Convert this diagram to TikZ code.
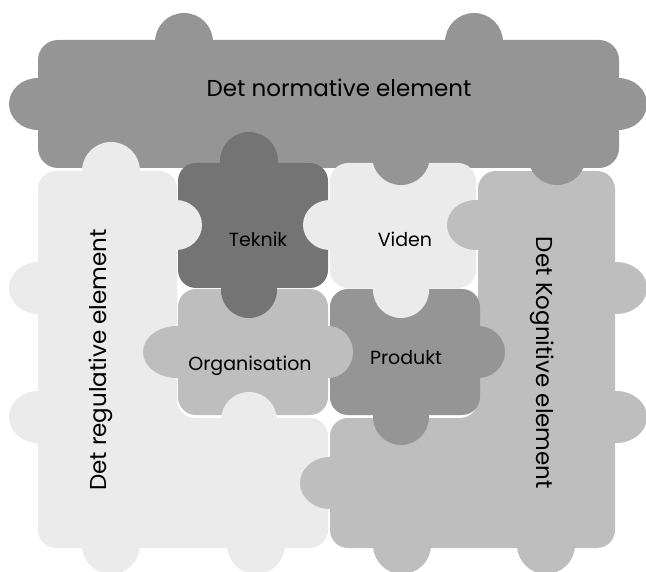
\documentclass[tikz,border=0pt]{standalone}
\usepackage{fontspec}
\setmainfont{Poppins}
\usepackage{tikz}
\usetikzlibrary{backgrounds}
\definecolor{lightpiece}{HTML}{EBEBEB}
\definecolor{midpiece}{HTML}{BEBEBE}
\definecolor{greypiece}{HTML}{959595}
\definecolor{darkpiece}{HTML}{747474}
\newcommand{\knob}{29}
\newcommand{\knobw}{26}
\newcommand{\corner}{18pt}
\tikzset{
  bigtext/.style={font=\fontsize{23}{27}\selectfont},
  smalltext/.style={font=\fontsize{19}{23}\selectfont},
}

\begin{document}
\begin{tikzpicture}[x=1pt,y=-1pt]
\useasboundingbox (0,0) rectangle (646,572);
%bodies
\fill[greypiece, rounded corners=20pt] (38,40) rectangle (619,168);
\fill[lightpiece, rounded corners=\corner] (38,171) -- (177,171) -- (177,418) -- (328,418) -- (328,548) -- (38,548) -- cycle;
\fill[midpiece, rounded corners=\corner] (478,171) -- (615,171) -- (615,548) -- (330,548) -- (330,418) -- (478,418) -- cycle;
\fill[darkpiece, rounded corners=\corner] (178,163) rectangle (328,288);
\fill[lightpiece, rounded corners=\corner] (330,163) rectangle (476,288);
\fill[midpiece, rounded corners=\corner] (178,289) rectangle (328,415);
\fill[greypiece, rounded corners=\corner] (330,289) rectangle (480,415);
%normative
\fill[greypiece] (184,42) circle (\knob);
\fill[greypiece] (474,42) circle (\knob);
\fill[greypiece] (38,104) ellipse (\knob pt and \knobw pt);
\fill[greypiece] (618,104) ellipse (\knob pt and \knobw pt);
\fill[greypiece] (401,156) circle (\knob);
\fill[greypiece] (557,156) circle (\knob);
%regulative
\fill[lightpiece] (111,171) circle (\knob);
\fill[lightpiece] (38,288) ellipse (\knob pt and \knobw pt);
\fill[lightpiece] (38,417) ellipse (\knob pt and \knobw pt);
\fill[lightpiece] (111,545) circle (\knob);
\fill[lightpiece] (256,545) circle (\knob);
\fill[lightpiece] (176,225) ellipse (26pt and 25pt);
\fill[lightpiece] (249,420) circle (28);
%teknik
\fill[darkpiece] (249,161) circle (\knob);
\fill[darkpiece] (249,290) circle (28);
%viden
\fill[lightpiece] (330,225) ellipse (27pt and 25pt);
\fill[lightpiece] (401,290) circle (28);
%kognitive
\fill[midpiece] (476,225) ellipse (\knob pt and 25pt);
\fill[midpiece] (616,288) ellipse (31pt and \knobw pt);
\fill[midpiece] (616,417) ellipse (31pt and \knobw pt);
\fill[midpiece] (402,545) circle (\knob);
\fill[midpiece] (546,545) circle (\knob);
\fill[midpiece] (330,483) ellipse (30pt and \knobw pt);
%organisation
\fill[midpiece] (177,352) ellipse (34pt and \knobw pt);
\fill[midpiece] (328,352) ellipse (25pt and \knobw pt);
%produkt
\fill[greypiece] (478,352) ellipse (27pt and \knobw pt);
\fill[greypiece] (401,417) circle (28);
%labels
\node[bigtext] (normative) at (339,88) {Det normative element};
\node[bigtext, rotate=90] (regulative) at (101,360) {Det regulative element};
\node[bigtext, rotate=-90] (kognitive) at (542,363) {Det Kognitive element};
\node[smalltext] (teknik) at (258,239) {Teknik};
\node[smalltext] (viden) at (405,239) {Viden};
\node[smalltext] (organisation) at (250,366) {Organisation};
\node[smalltext] (produkt) at (406,358) {Produkt};
\end{tikzpicture}
\end{document}
